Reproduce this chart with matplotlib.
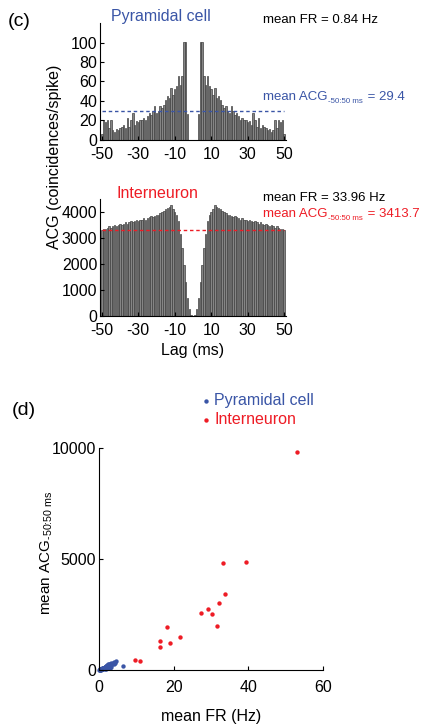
import matplotlib.pyplot as plt
import numpy as np

plt.rcParams['font.family'] = ['Liberation Sans', 'DejaVu Sans']
plt.rcParams['mathtext.fontset'] = 'custom'
plt.rcParams['mathtext.rm'] = 'Liberation Sans'
plt.rcParams['mathtext.it'] = 'Liberation Sans'
plt.rcParams['axes.unicode_minus'] = False
plt.rcParams['xtick.direction'] = 'in'
plt.rcParams['ytick.direction'] = 'in'

BLUE = '#3a55a6'
RED = '#ee1c25'

# --- (c) ACG, lags 0..50 ms (symmetric) ---
lags = np.arange(-50, 51)
pyr_half = [0, 0, 0, 27, 101, 101, 66, 56, 66, 55, 52,
            46, 53, 43, 45, 41, 36, 33, 35, 30, 28,
            35, 30, 26, 28, 25, 21, 23, 21, 20, 18,
            19, 15, 28, 20, 13, 23, 12, 15, 13, 12,
            10, 11, 8, 10, 21, 12, 20, 18, 20, 6]
int_half = [0, 30, 250, 700, 1300, 1950, 2600, 3150, 3650, 3900, 4000,
            4100, 4250, 4200, 4150, 4100, 4050, 4000, 3950, 3900, 3900,
            3850, 3800, 3850, 3800, 3750, 3700, 3750, 3700, 3700, 3650,
            3700, 3650, 3600, 3650, 3600, 3550, 3600, 3550, 3500, 3550,
            3500, 3450, 3500, 3450, 3400, 3450, 3400, 3350, 3350, 3300]
pyr_acg = np.concatenate([pyr_half[:0:-1], pyr_half])
int_acg = np.concatenate([int_half[:0:-1], int_half])
pyr_line = 29.4
int_line = 3300

# --- (d) mean FR vs mean ACG ---
int_fr = [53.1, 33.2, 39.5, 33.8, 32.1, 29.3, 27.3, 30.4, 31.5, 18.1,
          21.8, 16.3, 19.0, 16.3, 9.6, 10.9]
int_mean_acg = [9800, 4840, 4870, 3440, 3020, 2750, 2570, 2530, 1990, 1930,
                1500, 1320, 1220, 1050, 450, 390]
pyr_fr = [0.1, 0.2, 0.2, 0.3, 0.3, 0.4, 0.5, 0.5, 0.6, 0.7, 0.8, 0.84, 0.9,
          1.0, 1.1, 1.2, 1.3, 1.4, 1.5, 1.6, 1.7, 1.8, 1.9, 2.0, 2.1, 2.2,
          2.3, 2.4, 2.5, 2.6, 2.8, 3.0, 3.1, 3.3, 3.5, 3.7, 3.9, 4.1, 4.3,
          4.6, 6.4, 1.2, 1.8, 2.5, 3.2, 0.6, 1.5, 2.9]
pyr_mean_acg = [5, 10, 20, 15, 30, 25, 30, 45, 40, 55, 60, 29, 70,
                80, 90, 70, 110, 100, 130, 140, 120, 160, 150, 190, 140, 220,
                170, 250, 200, 260, 230, 280, 210, 300, 250, 320, 290, 360, 330,
                400, 195, 40, 60, 90, 140, 15, 50, 110]

fig = plt.figure(figsize=(4.23, 7.26), dpi=100)
fs = 11.5
sfs = 9.5

def style(ax, xpad=5):
    for s in ['top', 'right']:
        ax.spines[s].set_visible(False)
    ax.tick_params(labelsize=fs, length=3, width=0.8)
    ax.tick_params(axis='y', pad=2)
    ax.tick_params(axis='x', pad=xpad)

def acg_text(x, y, value, color):
    # "mean ACG" + small subscript + " = value"
    t1 = fig.text(x, y, 'mean ACG', color=color, fontsize=sfs, va='bottom')
    t2 = fig.axes[0].annotate('-50:50 ms', xy=(1, 0), xycoords=t1, xytext=(0.5, -1.5),
                              textcoords='offset points', color=color, fontsize=5.7,
                              va='bottom', annotation_clip=False)
    fig.axes[0].annotate(' = ' + value, xy=(1, 0), xycoords=(t2, t1), xytext=(0.5, 0),
                         textcoords='offset points', color=color, fontsize=sfs,
                         va='bottom', annotation_clip=False)

# top: pyramidal
ax1 = fig.add_axes([0.2364, 0.8072, 0.4397, 0.1611])
ax1.bar(lags, pyr_acg, width=0.8, color='#858585', edgecolor='#404040', linewidth=0.5)
ax1.plot([-50, 50], [pyr_line, pyr_line], ls=(0, (2.5, 2)), color=BLUE, lw=1)
ax1.set_xlim(-51, 51)
ax1.set_ylim(0, 120)
ax1.set_xticks(np.arange(-50, 51, 20))
ax1.set_yticks(np.arange(0, 101, 20))
style(ax1)

# bottom: interneuron
ax2 = fig.add_axes([0.2364, 0.5652, 0.4397, 0.1607])
ax2.bar(lags, int_acg, width=0.8, color='#858585', edgecolor='#404040', linewidth=0.5)
ax2.plot([-50, 50], [int_line, int_line], ls=(0, (2.5, 2)), color=RED, lw=1)
ax2.set_xlim(-51, 51)
ax2.set_ylim(0, 4500)
ax2.set_xticks(np.arange(-50, 51, 20))
ax2.set_yticks(np.arange(0, 4001, 1000))
ax2.set_xlabel('Lag (ms)', fontsize=fs, labelpad=4)
style(ax2)

fig.text(161 / 423, 1 - 17 / 726, 'Pyramidal cell', color=BLUE, fontsize=fs, ha='center', va='center')
fig.text(157 / 423, 1 - 194 / 726, 'Interneuron', color=RED, fontsize=fs, ha='center', va='center')
fig.text(263 / 423, 1 - 20 / 726, 'mean FR = 0.84 Hz', fontsize=sfs, va='center')
acg_text(263 / 423, 1 - 103 / 726, '29.4', BLUE)
fig.text(263 / 423, 1 - 198 / 726, 'mean FR = 33.96 Hz', fontsize=sfs, va='center')
acg_text(263 / 423, 1 - 220 / 726, '3413.7', RED)
fig.text(55 / 423, 1 - 157 / 726, 'ACG (coincidences/spike)', fontsize=fs, rotation=90, ha='center', va='center')
fig.text(8 / 423, 1 - 22 / 726, '(c)', fontsize=14, va='center')
fig.text(12 / 423, 1 - 410 / 726, '(d)', fontsize=14, va='center')

# scatter
ax3 = fig.add_axes([0.234, 0.0771, 0.5296, 0.3058])
h1 = ax3.scatter(pyr_fr, pyr_mean_acg, s=10, color=BLUE, linewidths=0, label='Pyramidal cell', clip_on=False)
h2 = ax3.scatter(int_fr, int_mean_acg, s=10, color=RED, linewidths=0, label='Interneuron', clip_on=False)
ax3.set_xlim(0, 60)
ax3.set_ylim(0, 10000)
ax3.set_xticks([0, 20, 40, 60])
ax3.set_yticks([0, 5000, 10000])
style(ax3, xpad=7)
ax3.set_xlabel('mean FR (Hz)', fontsize=fs, labelpad=10)
ax3.set_ylabel(r'mean ACG$_{\text{-50:50 ms}}$', fontsize=11)
ax3.yaxis.set_label_coords(-0.196, 0.53)
ax3.legend(handles=[h1, h2], loc='upper left', bbox_to_anchor=(203 / 423, 1 - 393 / 726),
           bbox_transform=fig.transFigure, frameon=False, fontsize=fs,
           handlelength=0.4, handletextpad=0.3, labelspacing=0.25, borderaxespad=0,
           borderpad=0, labelcolor=[BLUE, RED])

fig.savefig('out.png', dpi=100)
